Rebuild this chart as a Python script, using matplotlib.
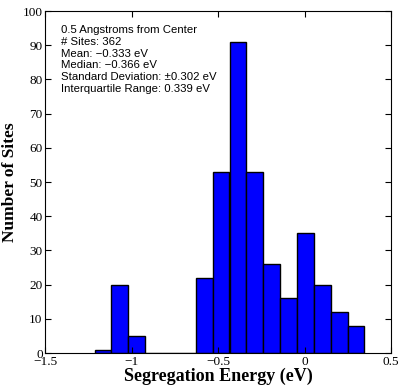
import numpy as np
import matplotlib
matplotlib.use('Agg')
import matplotlib.pyplot as plt

# histogram bins (centres, eV) and counts
centers = [-1.167, -1.070, -0.972, -0.874, -0.777, -0.679, -0.582, -0.484,
           -0.386, -0.289, -0.191, -0.094, 0.004, 0.102, 0.199, 0.297]
counts = [1, 20, 5, 0, 0, 0, 22, 53, 91, 53, 26, 16, 35, 20, 12, 8]
bin_width = 0.0976

info = ['0.5 Angstroms from Center',
        '# Sites: 362',
        'Mean: \u22120.333 eV',
        'Median: \u22120.366 eV',
        'Standard Deviation: \u00b10.302 eV',
        'Interquartile Range: 0.339 eV']

fig = plt.figure(figsize=(4.02, 3.88), dpi=100)
ax1 = fig.add_axes([0.113, 0.0902, 0.860, 0.8814])
ax1.bar(centers, counts, width=bin_width, color='#0000FF', edgecolor='k', linewidth=1.0)

ax1.set_xlim(-1.5, 0.5)
ax1.set_ylim(0, 100)
ax1.set_xticks([-1.5, -1, -0.5, 0, 0.5])
ax1.set_xticklabels(['\u22121.5', '\u22121', '\u22120.5', '0', '0.5'])
ax1.set_yticks(range(0, 101, 10))
ax1.tick_params(direction='in', top=True, right=True, length=4, width=0.8, labelsize=9.5, pad=2)
for lab in ax1.get_xticklabels() + ax1.get_yticklabels():
    lab.set_family('Liberation Serif')
for sp in ax1.spines.values():
    sp.set_linewidth(0.8)

ax1.set_xlabel('Segregation Energy (eV)', fontsize=13, fontweight='bold', family='Liberation Serif', labelpad=0)
ax1.set_ylabel('Number of Sites', fontsize=12.5, fontweight='bold', family='Liberation Serif', labelpad=3)

ax1.text(0.044, 0.960, '\n'.join(info), transform=ax1.transAxes, va='top', ha='left',
         fontsize=8.2, family='Liberation Sans', linespacing=1.24)

fig.savefig('out.png', dpi=100)
